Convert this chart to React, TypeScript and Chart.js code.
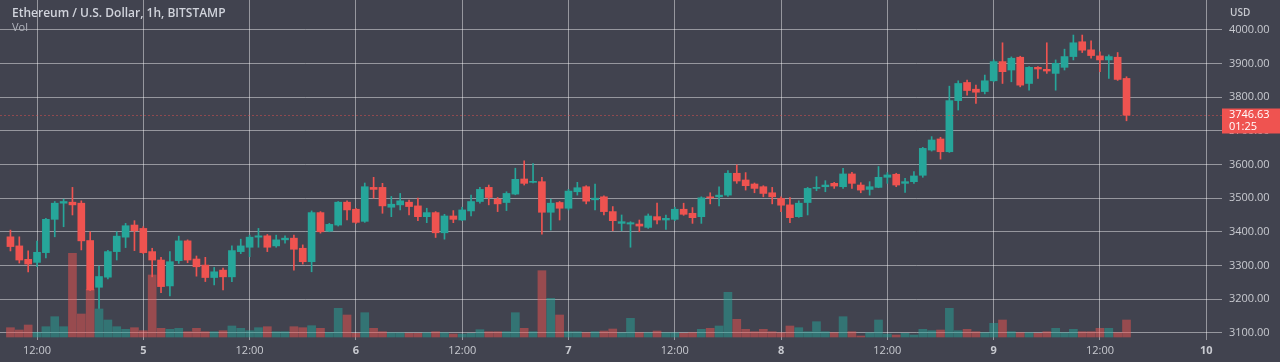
import React, { useEffect, useRef } from 'react';
import { Chart, registerables } from 'chart.js';

Chart.register(...registerables);

// Hours counted from 4 Dec 00:00; first candle is 4 Dec 09:00, hourly candles
const FIRST_HOUR = 9;

const openP = [
  3385, 3358, 3318, 3309, 3338, 3437, 3485, 3488, 3485, 3374,
  3235, 3265, 3341, 3384, 3420, 3410, 3341, 3316, 3239, 3314,
  3373, 3319, 3301, 3264, 3286, 3266, 3341, 3354, 3384, 3388,
  3358, 3376, 3381, 3351, 3311, 3457, 3402, 3420, 3488, 3467,
  3431, 3532, 3532, 3473, 3480, 3488, 3477, 3445, 3457, 3397,
  3447, 3435, 3462, 3490, 3532, 3497, 3487, 3512, 3557, 3547,
  3549, 3458, 3487, 3470, 3519, 3534, 3495, 3504, 3460, 3425,
  3423, 3423, 3413, 3445, 3435, 3437, 3467, 3455, 3445, 3504,
  3504, 3509, 3574, 3554, 3542, 3534, 3516, 3499, 3480, 3445,
  3487, 3529, 3534, 3544, 3534, 3572, 3539, 3526, 3532, 3562,
  3571, 3544, 3549, 3568, 3643, 3676, 3638, 3790, 3844, 3824,
  3817, 3849, 3906, 3881, 3919, 3841, 3889, 3883, 3871, 3889,
  3921, 3965, 3941, 3923, 3911, 3919, 3856,
];
const highP = [
  3405, 3385, 3343, 3372, 3440, 3490, 3497, 3532, 3492, 3400,
  3298, 3345, 3400, 3425, 3433, 3415, 3351, 3324, 3341, 3387,
  3376, 3328, 3324, 3294, 3292, 3358, 3378, 3390, 3410, 3392,
  3390, 3388, 3390, 3361, 3462, 3460, 3425, 3490, 3492, 3470,
  3545, 3562, 3544, 3505, 3514, 3494, 3500, 3470, 3460, 3452,
  3463, 3473, 3509, 3532, 3539, 3502, 3519, 3589, 3611, 3603,
  3562, 3497, 3490, 3526, 3547, 3537, 3542, 3507, 3475, 3450,
  3430, 3435, 3453, 3485, 3450, 3473, 3485, 3472, 3504, 3516,
  3534, 3582, 3599, 3576, 3545, 3537, 3532, 3504, 3502, 3492,
  3532, 3564, 3552, 3547, 3589, 3577, 3546, 3549, 3594, 3576,
  3574, 3559, 3579, 3651, 3683, 3681, 3833, 3849, 3851, 3836,
  3866, 3911, 3962, 3920, 3922, 3891, 3891, 3962, 3911, 3943,
  3985, 3985, 3968, 3935, 3926, 3933, 3861,
];
const lowP = [
  3343, 3307, 3281, 3296, 3322, 3385, 3415, 3450, 3346, 3225,
  3172, 3260, 3316, 3353, 3344, 3335, 3266, 3219, 3209, 3306,
  3308, 3268, 3252, 3242, 3227, 3252, 3335, 3326, 3354, 3341,
  3354, 3366, 3286, 3304, 3281, 3396, 3400, 3417, 3435, 3425,
  3428, 3500, 3455, 3445, 3465, 3450, 3433, 3427, 3383, 3378,
  3427, 3433, 3447, 3485, 3480, 3460, 3463, 3510, 3539, 3545,
  3393, 3405, 3435, 3465, 3509, 3483, 3465, 3450, 3403, 3403,
  3354, 3400, 3410, 3423, 3407, 3433, 3449, 3425, 3425, 3483,
  3477, 3505, 3544, 3524, 3516, 3504, 3483, 3460, 3427, 3443,
  3450, 3522, 3519, 3529, 3529, 3529, 3516, 3509, 3531, 3544,
  3534, 3517, 3544, 3562, 3640, 3616, 3636, 3762, 3806, 3782,
  3810, 3846, 3841, 3846, 3831, 3821, 3856, 3871, 3821, 3881,
  3911, 3933, 3916, 3876, 3856, 3850, 3730,
];
const closeP = [
  3356, 3316, 3304, 3339, 3437, 3485, 3490, 3480, 3373, 3227,
  3267, 3341, 3387, 3418, 3403, 3338, 3316, 3237, 3311, 3373,
  3316, 3296, 3264, 3281, 3266, 3344, 3358, 3384, 3388, 3354,
  3376, 3381, 3348, 3311, 3457, 3400, 3422, 3488, 3465, 3428,
  3534, 3526, 3477, 3482, 3492, 3475, 3445, 3457, 3397, 3447,
  3437, 3465, 3490, 3526, 3502, 3483, 3514, 3556, 3544, 3550,
  3458, 3485, 3470, 3521, 3531, 3491, 3500, 3460, 3433, 3430,
  3427, 3417, 3447, 3435, 3440, 3467, 3452, 3442, 3501, 3501,
  3509, 3574, 3551, 3537, 3529, 3514, 3504, 3479, 3442, 3485,
  3529, 3532, 3539, 3536, 3572, 3544, 3524, 3534, 3562, 3569,
  3539, 3549, 3566, 3648, 3673, 3638, 3790, 3841, 3820, 3815,
  3849, 3906, 3876, 3916, 3836, 3889, 3884, 3878, 3901, 3921,
  3962, 3940, 3924, 3911, 3921, 3853, 3746.63,
];
const volume = [
  372, 280, 480, 188, 412, 812, 412, 3348, 920, 1908,
  1120, 680, 412, 308, 372, 252, 2480, 348, 308, 348,
  212, 348, 212, 212, 252, 440, 348, 252, 372, 412,
  212, 212, 412, 372, 452, 348, 188, 1148, 880, 148,
  972, 348, 212, 172, 172, 148, 148, 172, 212, 172,
  120, 120, 148, 292, 212, 212, 212, 972, 348, 212,
  2652, 1548, 880, 212, 212, 172, 212, 240, 320, 172,
  748, 172, 172, 240, 172, 172, 148, 172, 308, 348,
  440, 1788, 708, 308, 212, 308, 212, 172, 440, 372,
  212, 612, 212, 172, 812, 212, 40, 172, 680, 120,
  80, 148, 80, 308, 252, 280, 1148, 252, 308, 212,
  172, 548, 680, 212, 172, 172, 148, 212, 348, 172,
  308, 212, 212, 348, 348, 172, 680,
];

const priceTicks = [3100, 3200, 3300, 3400, 3500, 3600, 3700, 3800, 3900, 4000];
const timeTicks = [12, 24, 36, 48, 60, 72, 84, 96, 108, 120, 132, 144];
const timeTickLabels = ['12:00', '5', '12:00', '6', '12:00', '7', '12:00', '8', '12:00', '9', '12:00', '10'];

const UP = '#26a69a';
const DOWN = '#ef5350';
const UP_VOL = 'rgba(38,166,154,0.5)';
const DOWN_VOL = 'rgba(239,83,80,0.5)';
const BG = '#41434f';
const GRID = 'rgba(255,255,255,0.45)';
const TEXT = '#c8cad0';
const FONT = "'Open Sans', 'Noto Sans', sans-serif";

const bgPlugin = {
  id: 'bgPlugin',
  beforeDraw(chart: any) {
    const { ctx, width, height } = chart;
    ctx.save();
    ctx.fillStyle = BG;
    ctx.fillRect(0, 0, width, height);
    ctx.restore();
  },
  afterDatasetsDraw(chart: any) {
    const { ctx, chartArea } = chart;
    const y = chart.scales.y;
    const last = closeP[closeP.length - 1];
    const py = Math.round(y.getPixelForValue(last)) + 0.5;
    ctx.save();
    ctx.strokeStyle = 'rgba(239,83,80,0.45)';
    ctx.lineWidth = 1;
    ctx.setLineDash([2, 2]);
    ctx.beginPath();
    ctx.moveTo(chartArea.left, py);
    ctx.lineTo(chartArea.right, py);
    ctx.stroke();
    ctx.setLineDash([]);
    // price label box
    const boxTop = py - 7;
    ctx.fillStyle = DOWN;
    ctx.fillRect(chartArea.right, boxTop, chart.width - chartArea.right, 25);
    ctx.fillStyle = '#ffffff';
    ctx.font = `11px ${FONT}`;
    ctx.textBaseline = 'middle';
    ctx.textAlign = 'left';
    ctx.fillText(last.toFixed(2), chartArea.right + 7, boxTop + 6.5);
    ctx.fillText('01:25', chartArea.right + 7, boxTop + 18.5);
    // currency label
    ctx.fillStyle = TEXT;
    ctx.font = `600 10px ${FONT}`;
    ctx.fillText('USD', chartArea.right + 8, 13);
    ctx.restore();
  },
};

export default function App() {
  const ref = useRef<HTMLCanvasElement | null>(null);

  useEffect(() => {
    if (!ref.current) return;
    const hours = openP.map((_, i) => FIRST_HOUR + i);
    const candleColors = openP.map((o, i) => (closeP[i] >= o ? UP : DOWN));
    const volColors = openP.map((o, i) => (closeP[i] >= o ? UP_VOL : DOWN_VOL));

    const chart = new Chart(ref.current, {
      type: 'bar',
      data: {
        datasets: [
          {
            label: 'Vol',
            data: volume.map((v, i) => ({ x: hours[i], y: v })) as any,
            yAxisID: 'vol',
            backgroundColor: volColors,
            barThickness: 8,
            grouped: false,
            order: 3,
          } as any,
          {
            label: 'Wick',
            data: lowP.map((l, i) => ({ x: hours[i], y: [l, highP[i]] })) as any,
            yAxisID: 'y',
            backgroundColor: candleColors,
            barThickness: 1,
            grouped: false,
            order: 2,
          } as any,
          {
            label: 'Body',
            data: openP.map((o, i) => ({ x: hours[i], y: [o, closeP[i]] })) as any,
            yAxisID: 'y',
            backgroundColor: candleColors,
            barThickness: 7,
            minBarLength: 1,
            grouped: false,
            order: 1,
          } as any,
        ],
      },
      options: {
        responsive: false,
        animation: false,
        devicePixelRatio: 1,
        events: [],
        layout: { padding: 0 },
        plugins: { legend: { display: false }, tooltip: { enabled: false } },
        scales: {
          x: {
            type: 'linear',
            min: 7.82,
            max: 145.78,
            offset: false,
            afterBuildTicks: (s: any) => {
              s.ticks = timeTicks.map((v) => ({ value: v }));
            },
            afterFit: (s: any) => {
              s.height = 22;
              s.paddingLeft = 0;
              s.paddingRight = 0;
            },
            grid: { color: GRID, drawTicks: false, lineWidth: 1, offset: false },
            border: { display: false },
            ticks: {
              color: TEXT,
              padding: 4,
              maxRotation: 0,
              autoSkip: false,
              font: (ctx: any) => ({
                family: FONT,
                size: 11,
                weight: ctx.tick && ctx.tick.value % 24 === 0 ? 'bold' : 'normal',
              }),
              callback: (_v: any, i: number) => timeTickLabels[i],
            },
          },
          y: {
            type: 'linear',
            position: 'right',
            min: 3078.2,
            max: 4089.2,
            afterBuildTicks: (s: any) => {
              s.ticks = priceTicks.map((v) => ({ value: v }));
            },
            afterFit: (s: any) => {
              s.width = 58;
              s.paddingTop = 0;
              s.paddingBottom = 0;
            },
            grid: { color: GRID, drawTicks: false, lineWidth: 1 },
            border: { display: false },
            ticks: {
              color: TEXT,
              padding: 7,
              font: { family: FONT, size: 11 },
              callback: (v: any) => Number(v).toFixed(2),
            },
          },
          vol: {
            type: 'linear',
            display: false,
            min: -120,
            max: 13480,
          },
        } as any,
      },
      plugins: [bgPlugin],
    });
    return () => chart.destroy();
  }, []);

  return (
    <div style={{ position: 'absolute', left: 0, top: 0, width: 1280, height: 362, background: BG }}>
      <canvas ref={ref} width={1280} height={362} style={{ display: 'block', width: 1280, height: 362 }} />
      <div
        style={{
          position: 'absolute',
          left: 12,
          top: 5,
          fontFamily: FONT,
          fontSize: 12,
          fontWeight: 600,
          color: '#d1d4dc',
          whiteSpace: 'nowrap',
          lineHeight: '16px',
        }}
      >
        Ethereum / U.S. Dollar, 1h, BITSTAMP
      </div>
      <div
        style={{
          position: 'absolute',
          left: 12,
          top: 20,
          fontFamily: FONT,
          fontSize: 11,
          color: '#b2b5be',
          whiteSpace: 'nowrap',
          lineHeight: '14px',
        }}
      >
        Vol
      </div>
    </div>
  );
}
